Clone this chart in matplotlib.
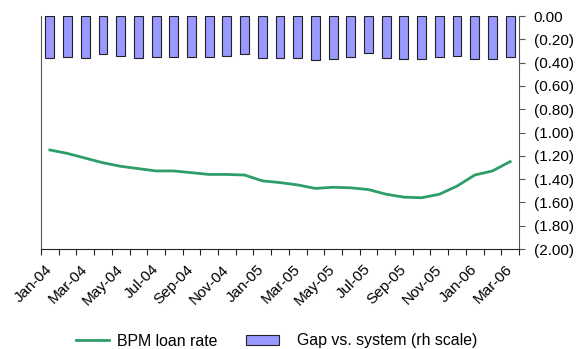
import matplotlib
matplotlib.use("Agg")
import matplotlib.pyplot as plt
from matplotlib.ticker import FuncFormatter
from matplotlib.patches import Patch
from matplotlib.lines import Line2D
import numpy as np

plt.rcParams['font.family'] = ['Liberation Sans', 'DejaVu Sans']

months = ["Jan-04", "Feb-04", "Mar-04", "Apr-04", "May-04", "Jun-04", "Jul-04",
          "Aug-04", "Sep-04", "Oct-04", "Nov-04", "Dec-04", "Jan-05", "Feb-05",
          "Mar-05", "Apr-05", "May-05", "Jun-05", "Jul-05", "Aug-05", "Sep-05",
          "Oct-05", "Nov-05", "Dec-05", "Jan-06", "Feb-06", "Mar-06"]

# Gap vs. system (negative, shown on right-hand scale)
gap = [-0.36, -0.35, -0.36, -0.33, -0.34, -0.36, -0.35, -0.35, -0.35, -0.35,
       -0.34, -0.33, -0.36, -0.36, -0.36, -0.38, -0.37, -0.35, -0.32, -0.36,
       -0.37, -0.37, -0.35, -0.34, -0.37, -0.37, -0.355]

# BPM loan rate series
bpm_rate = [-1.15, -1.18, -1.22, -1.26, -1.29, -1.31, -1.33, -1.33, -1.345,
            -1.36, -1.36, -1.365, -1.415, -1.43, -1.45, -1.48, -1.47, -1.475,
            -1.49, -1.53, -1.555, -1.56, -1.53, -1.46, -1.365, -1.33, -1.25]

x = np.arange(len(months))

LINE_C = "#2E9E68"
BAR_C = "#9999FF"
EDGE_C = "#222222"

fig = plt.figure(figsize=(5.77, 3.49), dpi=100)
ax = fig.add_axes([41 / 577, 1 - 249 / 349, (519 - 41) / 577, (249 - 16) / 349])

ax.bar(x, gap, width=0.5, color=BAR_C, edgecolor=EDGE_C, linewidth=0.8, zorder=2)
ax.plot(x, bpm_rate, color=LINE_C, linewidth=2, zorder=3)

ax.set_xlim(-0.5, len(months) - 0.5)
ax.set_ylim(-2.0, 0.0)

# Right-hand scale with accounting-style negatives
ax.yaxis.tick_right()
ax.set_yticks(np.arange(-2.0, 0.01, 0.2))
ax.yaxis.set_major_formatter(FuncFormatter(
    lambda v, _: "0.00" if abs(v) < 1e-9 else (f"({abs(v):.2f})" if v < 0 else f"{v:.2f}")))
ax.tick_params(axis='y', direction='out', length=4, width=0.8, color="#555555",
               labelsize=11, pad=6.5)

# Category boundaries as ticks, every second month labelled
ax.set_xticks(np.arange(-0.5, len(months)), labels=[])
ax.set_xticks(x[::2], labels=months[::2], minor=True)
ax.tick_params(axis='x', which='major', direction='out', length=4, width=0.8, color=EDGE_C)
ax.tick_params(axis='x', which='minor', length=0, labelsize=11, pad=13)
for lbl in ax.get_xticklabels(minor=True):
    lbl.set_rotation(45)
    lbl.set_ha('right')
    lbl.set_va('center')
    lbl.set_rotation_mode('anchor')

ax.spines['top'].set_visible(False)
ax.spines['left'].set_color("#555555")
ax.spines['right'].set_color("#555555")
ax.spines['bottom'].set_color(EDGE_C)
for s in ax.spines.values():
    s.set_linewidth(0.8)

leg_kw = dict(frameon=False, fontsize=11.4, handlelength=2.1, borderpad=0,
              borderaxespad=0, loc='center left')
fig.legend([Line2D([0], [0], color=LINE_C, linewidth=2)], ["BPM loan rate"],
           bbox_to_anchor=(76 / 577, 1 - 341 / 349), handletextpad=0.5, **leg_kw)
fig.legend([Patch(facecolor=BAR_C, edgecolor=EDGE_C, linewidth=0.8)],
           ["Gap vs. system (rh scale)"],
           bbox_to_anchor=(246 / 577, 1 - 341 / 349), handletextpad=1.1,
           handleheight=0.6, **leg_kw)

fig.savefig("out.png", dpi=100)
